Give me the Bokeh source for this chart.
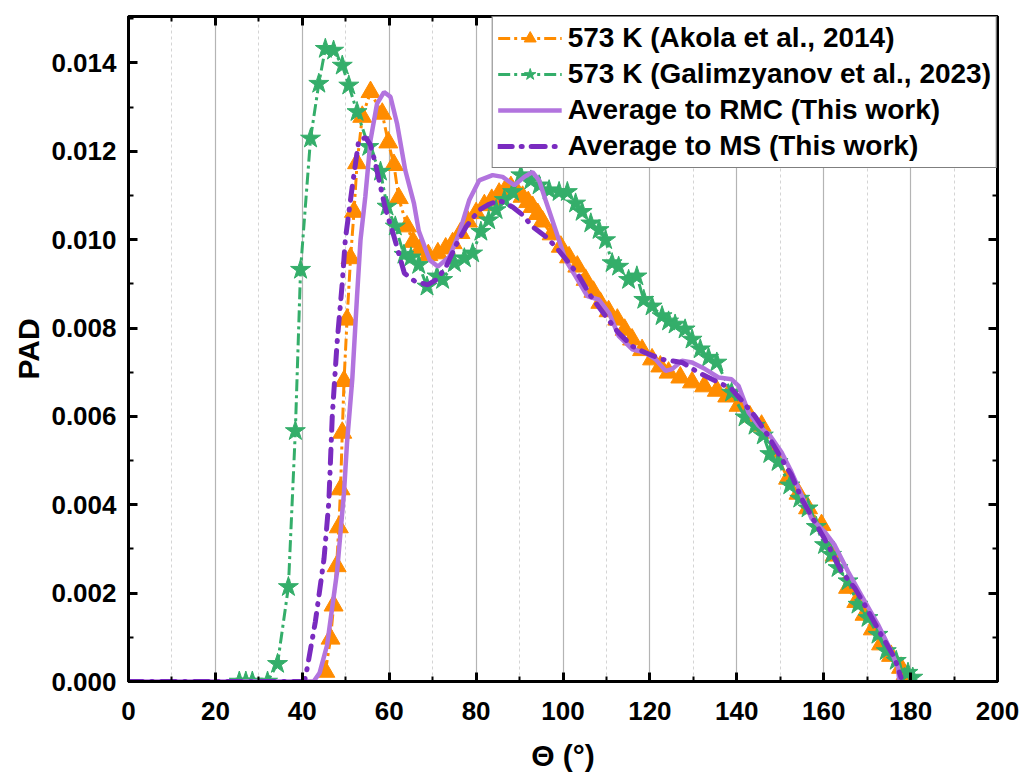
from bokeh.plotting import figure
from bokeh.models import (LinearAxis, SingleIntervalTicker, NumeralTickFormatter,
                          Legend, LegendItem, Range1d, Grid)
from bokeh.embed import file_html
from bokeh.resources import INLINE

# ---------------- data ----------------
akola_theta = [45.3, 46.5, 47.2, 47.9, 48.4, 48.8, 49.2, 49.6, 50.3, 51.1, 51.9, 52.6,
               53.8, 55.7, 58.4, 59.8, 61.1, 62.2, 64.1, 65.5, 67.0, 69.0, 71.2, 73.0,
               74.6, 76.4, 78.1, 80.0, 81.9, 83.6, 85.3, 86.7, 88.0, 89.3, 90.7, 92.0,
               93.0, 94.2, 95.3, 97.4, 99.5, 101.4, 103.3, 105.2, 107.0, 108.6, 110.5,
               112.5, 114.2, 115.9, 118.2, 120.5, 122.4, 124.3, 127.0, 129.7, 132.5,
               135.4, 137.8, 140.4, 143.0, 145.7, 148.7, 151.8, 154.2, 156.4, 159.5,
               162.5, 165.6, 167.5, 169.4, 171.3, 173.2, 175.5, 177.8, 178.5]
akola_pad = [0.00022, 0.00097, 0.00172, 0.00261, 0.00349, 0.00435, 0.00563, 0.00680,
             0.00819, 0.00958, 0.01063, 0.01173, 0.01278, 0.01334, 0.01285, 0.01220,
             0.01169, 0.01094, 0.01030, 0.00995, 0.00977, 0.00965, 0.00969, 0.00980,
             0.00992, 0.01015, 0.01041, 0.01060, 0.01078, 0.01090, 0.01104, 0.01112,
             0.01119, 0.01110, 0.01097, 0.01085, 0.01074, 0.01058, 0.01041, 0.01012,
             0.00984, 0.00960, 0.00939, 0.00909, 0.00882, 0.00857, 0.00838, 0.00819,
             0.00796, 0.00774, 0.00750, 0.00729, 0.00713, 0.00699, 0.00688, 0.00677,
             0.00668, 0.00658, 0.00645, 0.00624, 0.00600, 0.00579, 0.00520, 0.00459,
             0.00425, 0.00392, 0.00354, 0.00285, 0.00212, 0.00180, 0.00151, 0.00118,
             0.00084, 0.00058, 0.00031, 0.00010]

galim_theta = [25.5, 27.0, 28.5, 32.0, 34.3, 36.8, 38.4, 39.6, 41.9, 43.8, 45.3, 47.2,
               49.2, 50.7, 52.6, 55.3, 58.0, 59.5, 61.4, 63.4, 65.0, 66.8, 68.7, 71.0,
               72.3, 75.0, 77.3, 79.2, 81.1, 82.9, 84.6, 86.5, 88.4, 90.3, 92.6, 94.5,
               96.8, 99.1, 101.0, 102.9, 104.4, 106.4, 108.3, 109.8, 111.3, 112.8, 115.1,
               117.0, 118.6, 120.5, 122.8, 124.3, 125.8, 128.1, 129.7, 131.6, 133.5,
               135.4, 138.8, 141.9, 144.2, 146.1, 147.6, 149.5, 152.2, 154.5, 156.4,
               158.3, 160.2, 161.8, 163.3, 165.6, 167.9, 170.2, 172.5, 174.4, 176.7,
               179.4, 180.5]
galim_pad = [0.0, 0.0, 0.0, 0.0, 0.00040, 0.00214, 0.00567, 0.00932, 0.01229, 0.01353,
             0.01432, 0.01428, 0.01394, 0.01349, 0.01289, 0.01210, 0.01154, 0.01075,
             0.01030, 0.00966, 0.00960, 0.00943, 0.00894, 0.00917, 0.00909, 0.00947,
             0.00958, 0.00969, 0.01018, 0.01044, 0.01067, 0.01090, 0.01108, 0.01146,
             0.01134, 0.01123, 0.01112, 0.01108, 0.01108, 0.01082, 0.01063, 0.01037,
             0.01022, 0.00999, 0.00947, 0.00939, 0.00909, 0.00917, 0.00864, 0.00849,
             0.00827, 0.00815, 0.00808, 0.00797, 0.00774, 0.00752, 0.00733, 0.00722,
             0.00654, 0.00598, 0.00579, 0.00557, 0.00515, 0.00497, 0.00444, 0.00414,
             0.00392, 0.00350, 0.00309, 0.00287, 0.00257, 0.00227, 0.00174, 0.00144,
             0.00106, 0.00069, 0.00047, 0.00020, 0.00009]

rmc_theta = [0.0, 42.6, 44.0, 45.7, 48.0, 49.6, 50.3, 51.5, 52.6, 53.4, 54.5, 55.7,
             57.2, 58.8, 60.3, 61.8, 63.7, 65.7, 66.8, 69.3, 71.2, 73.9, 76.1, 78.4,
             80.7, 83.8, 86.1, 88.8, 91.1, 93.0, 94.5, 96.0, 98.3, 100.6, 102.9, 105.6,
             108.3, 110.6, 112.8, 115.9, 119.0, 121.3, 123.6, 125.1, 127.4, 129.7,
             132.7, 135.8, 138.8, 140.4, 142.7, 145.0, 147.6, 150.3, 152.6, 155.0,
             157.2, 160.2, 162.5, 165.6, 168.6, 172.5, 175.5, 177.1, 177.4]
rmc_pad = [0.0, 0.0, 0.00020, 0.00082, 0.00248, 0.00428, 0.00541, 0.00684, 0.00872,
           0.01000, 0.01097, 0.01225, 0.01308, 0.01334, 0.01323, 0.01263, 0.01157,
           0.01082, 0.01020, 0.00954, 0.00939, 0.00962, 0.01014, 0.01089, 0.01134,
           0.01146, 0.01142, 0.01123, 0.01142, 0.01153, 0.01134, 0.01089, 0.01022,
           0.00954, 0.00917, 0.00872, 0.00864, 0.00834, 0.00782, 0.00752, 0.00744,
           0.00729, 0.00703, 0.00707, 0.00726, 0.00722, 0.00707, 0.00688, 0.00684,
           0.00669, 0.00609, 0.00579, 0.00557, 0.00519, 0.00474, 0.00420, 0.00369,
           0.00339, 0.00309, 0.00249, 0.00196, 0.00129, 0.00069, 0.00032, 0.0]

ms_theta = [0.0, 40.5, 41.1, 43.0, 45.0, 46.1, 46.5, 46.9, 48.0, 49.2, 49.9, 51.5, 53.0,
            54.6, 55.7, 56.8, 58.0, 59.1, 61.1, 63.5, 66.0, 68.9, 71.0, 73.1, 75.5,
            77.7, 80.7, 83.0, 85.3, 88.4, 90.7, 93.0, 96.0, 98.3, 101.4, 103.7, 106.4,
            109.8, 112.8, 115.9, 119.0, 122.8, 127.4, 131.2, 135.8, 138.8, 141.1, 144.2,
            147.2, 150.3, 152.6, 154.9, 157.9, 161.0, 164.1, 167.1, 169.4, 173.2,
            176.3, 177.8]
ms_pad = [0.0, 0.0, 0.00029, 0.00135, 0.00278, 0.00405, 0.00503, 0.00601, 0.00766,
          0.00902, 0.01000, 0.01120, 0.01225, 0.01231, 0.01214, 0.01173, 0.01120,
          0.01071, 0.01007, 0.00924, 0.00905, 0.00898, 0.00910, 0.00939, 0.00990,
          0.01029, 0.01067, 0.01080, 0.01089, 0.01074, 0.01056, 0.01029, 0.01007,
          0.00984, 0.00947, 0.00917, 0.00872, 0.00827, 0.00789, 0.00759, 0.00744,
          0.00729, 0.00722, 0.00699, 0.00677, 0.00662, 0.00636, 0.00600, 0.00556,
          0.00504, 0.00467, 0.00414, 0.00362, 0.00309, 0.00249, 0.00212, 0.00174,
          0.00106, 0.00054, 0.00009]

labels = ["573 K (Akola et al., 2014)", "573 K (Galimzyanov et al., 2023)",
          "Average to RMC (This work)", "Average to MS (This work)"]

ORANGE = "#FF8C00"
GREEN = "#34AE6A"
LPURPLE = "#B274DE"
DPURPLE = "#7A2BC0"
FONT = "Liberation Sans"

p = figure(width=1023, height=774, output_backend="svg", toolbar_location=None,
           x_range=Range1d(0, 200), y_range=Range1d(0, 0.01505),
           min_border_left=128, min_border_right=26, min_border_top=16,
           min_border_bottom=91, x_axis_location=None, y_axis_location=None)
p.background_fill_color = "white"
p.border_fill_color = "white"
p.outline_line_color = "black"
p.outline_line_width = 3

# remove default grids (horizontal grid must not show)
p.center = [r for r in p.center if not isinstance(r, Grid)]

xt = SingleIntervalTicker(interval=20, num_minor_ticks=2)
yt = SingleIntervalTicker(interval=0.002, num_minor_ticks=2)


def style_axis(ax, show_labels):
    ax.axis_line_color = "black"
    ax.axis_line_width = 3
    ax.major_tick_in = 9
    ax.major_tick_out = 0
    ax.major_tick_line_width = 3
    ax.minor_tick_in = 5
    ax.minor_tick_out = 0
    ax.minor_tick_line_width = 2
    if show_labels:
        ax.major_label_text_font = FONT
        ax.major_label_text_font_style = "bold"
        ax.major_label_text_font_size = "26px"
        ax.major_label_text_color = "black"
        ax.axis_label_text_font = FONT
        ax.axis_label_text_font_style = "bold"
        ax.axis_label_text_font_size = "30px"
        ax.axis_label_text_color = "black"
    else:
        ax.major_label_text_font_size = "1px"
        ax.major_label_text_alpha = 0
        ax.major_label_standoff = 0


xb = LinearAxis(ticker=xt, axis_label="\u0398 (\u00b0)")
style_axis(xb, True)
xb.major_label_standoff = 20
xb.axis_label_standoff = 16
p.add_layout(xb, "below")

yl = LinearAxis(ticker=yt, axis_label="PAD", formatter=NumeralTickFormatter(format="0.000"))
style_axis(yl, True)
yl.major_label_standoff = 12
yl.axis_label_standoff = 3
p.add_layout(yl, "left")

xa = LinearAxis(ticker=xt)
style_axis(xa, False)
p.add_layout(xa, "above")
yr = LinearAxis(ticker=yt)
style_axis(yr, False)
p.add_layout(yr, "right")

# vertical grid only
g = Grid(dimension=0, ticker=xt)
g.grid_line_color = "#b4b4b4"
g.grid_line_width = 1.2
g.minor_grid_line_color = "#d4d4d4"
g.minor_grid_line_dash = "3 3"
g.minor_grid_line_width = 1
p.add_layout(g)

# series
r_o_line = p.line(akola_theta, akola_pad, line_color=ORANGE, line_width=3, line_dash="12 4 3 4")
r_o_mk = p.scatter(akola_theta, akola_pad, marker="triangle", size=19,
                   fill_color=ORANGE, line_color=ORANGE)
r_g_line = p.line(galim_theta, galim_pad, line_color=GREEN, line_width=3, line_dash="12 4 3 4")
r_g_mk = p.scatter(galim_theta, galim_pad, marker="star", size=21,
                   fill_color=GREEN, line_color=GREEN)
r_rmc = p.line(rmc_theta, rmc_pad, line_color=LPURPLE, line_width=4.5)
r_ms = p.line(ms_theta, ms_pad, line_color=DPURPLE, line_width=5, line_dash="14 9 1 9",
              line_cap="round")

legend = Legend(items=[
    LegendItem(label=labels[0], renderers=[r_o_line, r_o_mk]),
    LegendItem(label=labels[1], renderers=[r_g_line, r_g_mk]),
    LegendItem(label=labels[2], renderers=[r_rmc]),
    LegendItem(label=labels[3], renderers=[r_ms]),
], location="top_right")
legend.label_text_font = FONT
legend.label_text_font_style = "bold"
legend.label_text_font_size = "28px"
legend.label_text_color = "black"
legend.label_standoff = 6
legend.glyph_width = 64
legend.glyph_height = 30
legend.label_height = 30
legend.spacing = 4
legend.padding = 5
legend.margin = 0
legend.border_line_color = "black"
legend.border_line_width = 1.5
legend.background_fill_color = "white"
legend.background_fill_alpha = 1.0
p.add_layout(legend, "center")

open("out.html", "w").write(file_html(p, INLINE))
